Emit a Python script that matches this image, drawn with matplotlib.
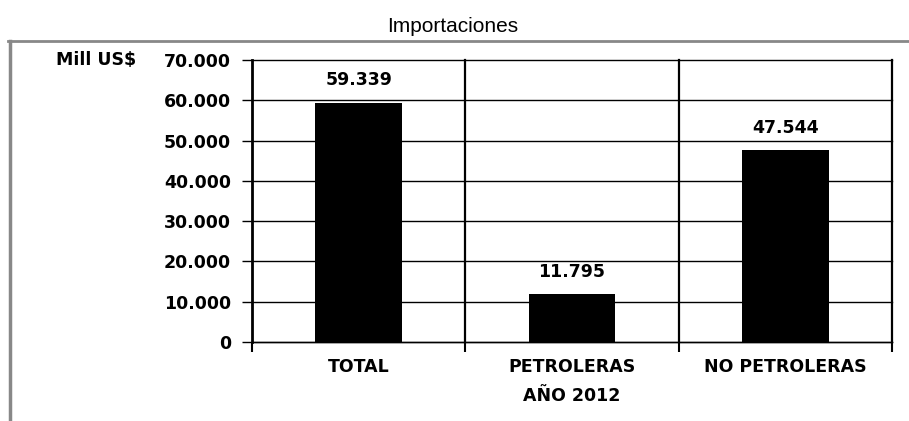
"""Importaciones 2012 — barras en Mill US$ (total, petroleras, no petroleras)."""
import matplotlib
matplotlib.use("Agg")
import matplotlib.pyplot as plt
from matplotlib.lines import Line2D
from matplotlib.ticker import FuncFormatter

categorias = ["TOTAL", "PETROLERAS", "NO PETROLERAS"]
valores = [59339, 11795, 47544]
y_ticks = [0, 10000, 20000, 30000, 40000, 50000, 60000, 70000]
titulo = "Importaciones"
eje_x = "AÑO 2012"
unidad = "Mill US$"


def miles(v, _pos=None):
    # separador de miles con punto
    return f"{int(v):,}".replace(",", ".")


W, H = 909, 421
fig = plt.figure(figsize=(W / 100, H / 100), dpi=100)
ax = fig.add_axes([252 / W, 1 - 342 / H, (892 - 252) / W, (342 - 60) / H])

x = range(len(categorias))
ax.bar(x, valores, width=0.405, color="black", zorder=3)
for xi, v in zip(x, valores):
    ax.annotate(miles(v), (xi, v), xytext=(0, 10), textcoords="offset points",
                ha="center", va="bottom", fontsize=12.5, fontweight="bold")

ax.set_xlim(-0.5, len(categorias) - 0.5)
ax.set_ylim(0, 70000)
ax.set_yticks(y_ticks)
ax.yaxis.set_major_formatter(FuncFormatter(miles))
ax.tick_params(axis="y", length=7, width=1, pad=8, labelsize=12.5)
for lab in ax.get_yticklabels():
    lab.set_fontweight("bold")
ax.grid(axis="y", color="black", lw=1, zorder=0)
for g in ax.get_ygridlines():
    g.set_clip_on(False)

# divisiones entre categorias (ticks y lineas verticales)
bordes = [i - 0.5 for i in range(len(categorias) + 1)]
ax.set_xticks(bordes)
ax.set_xticklabels([])
ax.tick_params(axis="x", length=7, width=1.5)
for b in bordes[1:]:
    ax.axvline(b, color="black", lw=1.6, zorder=1, clip_on=False)
for xi, c in zip(x, categorias):
    ax.text(xi, -0.09, c, transform=ax.get_xaxis_transform(), ha="center",
            va="center", fontsize=12.5, fontweight="bold")
ax.text(1, -0.19, eje_x, transform=ax.get_xaxis_transform(), ha="center",
        va="center", fontsize=12.5, fontweight="bold")

for s in ["top", "right"]:
    ax.spines[s].set_visible(False)
ax.spines["bottom"].set_linewidth(1)
ax.spines["left"].set_linewidth(2)

fig.text(136 / W, 1 - 60 / H, unidad, ha="right", va="center",
         fontsize=12.5, fontweight="bold")
fig.text(453 / W, 1 - 26 / H, titulo, ha="center", va="center",
         fontsize=15, family="Liberation Sans")

# marco gris del grafico
fig.add_artist(Line2D([9.5 / W, 9.5 / W], [0, 1 - 41 / H], color="#888888", lw=2.5,
                      transform=fig.transFigure))
fig.add_artist(Line2D([8 / W, 1], [1 - 41 / H, 1 - 41 / H], color="#888888", lw=2,
                      transform=fig.transFigure))

fig.savefig("out.png", dpi=100)
